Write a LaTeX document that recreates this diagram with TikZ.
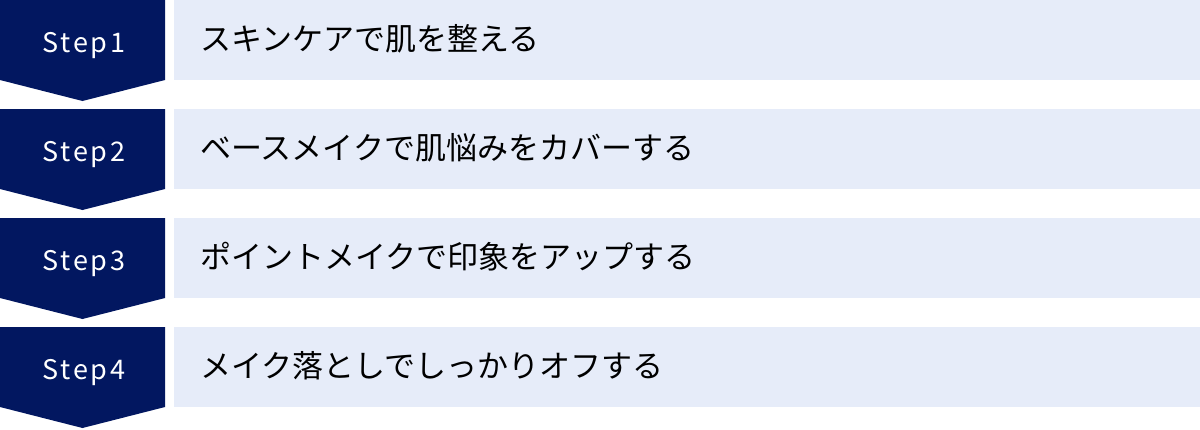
\documentclass[tikz,border=0pt]{standalone}
\usepackage{fontspec}
\setmainfont{Noto Sans CJK JP}
\newfontfamily\stepfont[LetterSpace=10]{Noto Sans CJK JP}
\usepackage{xcolor}
\definecolor{stepnavy}{RGB}{2,23,96}
\definecolor{rowblue}{RGB}{230,236,249}

\tikzset{
  stepshape/.style={fill=stepnavy, draw=none},
  rowbox/.style={fill=rowblue, draw=none},
  steplabel/.style={text=white, inner sep=0pt, anchor=base, font=\stepfont\fontsize{27}{32}\selectfont},
  rowlabel/.style={text=black, inner sep=0pt, anchor=base west, font=\fontsize{31}{36}\selectfont}
}

\begin{document}
\begin{tikzpicture}[x=1pt,y=-1pt]
        \useasboundingbox (0,0) rectangle (1200,429);
        \foreach \n/\txt in {1/スキンケアで肌を整える,
                             2/ベースメイクで肌悩みをカバーする,
                             3/ポイントメイクで印象をアップする,
                             4/メイク落としでしっかりオフする} {
          \pgfmathsetmacro{\top}{109*(\n-1)}
          \fill[rowbox] (174,\top) rectangle (1200,\top+80);
          \fill[stepshape] (0,\top) -- (165,\top) -- (165,\top+80)
                -- (82.5,\top+101) -- (0,\top+80) -- cycle;
          \node[steplabel] (step\n) at (84,\top+52) {Step\n};
          \node[rowlabel] (task\n) at (200,\top+50) {\txt};
        }
      \end{tikzpicture}
\end{document}
